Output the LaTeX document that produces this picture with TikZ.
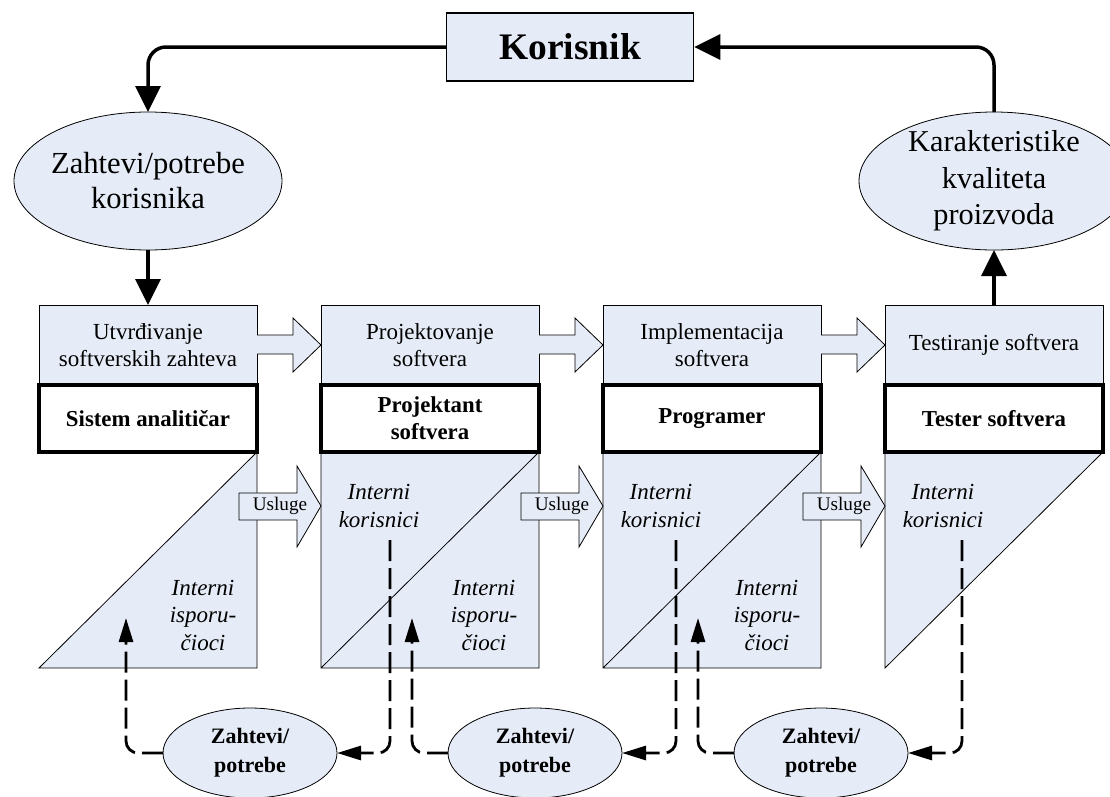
\documentclass[tikz,border=0pt]{standalone}
\usepackage{fontspec}
\setmainfont{Liberation Serif}
\usetikzlibrary{positioning,shapes.geometric,arrows.meta}
\definecolor{plavo}{RGB}{230,236,247}
\tikzset{
	faza/.style={draw, line width=0.8pt, fill=plavo, minimum width=218pt, minimum height=80pt, inner sep=0pt, outer sep=0pt, align=center, font=\fontsize{23}{26.5}\selectfont},
	uloga/.style={draw, line width=4pt, fill=white, minimum width=218pt, minimum height=67pt, inner sep=0pt, outer sep=0pt, align=center, font=\fontsize{22.8}{27}\selectfont\bfseries},
	oblak/.style={ellipse, draw, line width=0.8pt, fill=plavo, inner sep=0pt, outer sep=0pt},
	tekst/.style={align=center, inner sep=0pt},
	tok/.style={line width=3.5pt, rounded corners=18pt, -{Triangle[length=26pt,width=25pt]}},
	povrat/.style={line width=2.8pt, dash pattern=on 21pt off 7pt, rounded corners=12pt, -{Triangle[length=24pt,width=14pt]}},
	blok/.style={draw, line width=0.8pt, fill=plavo},
	interni/.style={tekst, font=\fontsize{23}{27.5}\selectfont\itshape},
}
\begin{document}
\begin{tikzpicture}[x=1pt, y=-1pt]
	\useasboundingbox (0,0) rectangle (1110,796);
	\draw[blok] (257,452) -- (257,668) -- (39,668) -- cycle;
	\draw[blok] (321,452) rectangle (539,668) (539,452) -- (321,668);
	\draw[blok] (603,452) rectangle (821,668) (821,452) -- (603,668);
	\draw[blok] (885,452) -- (1103,452) -- (885,668) -- cycle;
	\node[faza] (h1) at (148,345) {Utvrđivanje\\softverskih zahteva};
	\node[faza] (h2) at (430,345) {Projektovanje\\softvera};
	\node[faza] (h3) at (712,345) {Implementacija\\softvera};
	\node[faza] (h4) at (994,345) {Testiranje softvera};
	\node[uloga, below=0pt of h1] (r1) {Sistem analitičar};
	\node[uloga, below=0pt of h2] (r2) {Projektant\\softvera};
	\node[uloga, below=0pt of h3] (r3) {Programer};
	\node[uloga, below=0pt of h4] (r4) {Tester softvera};
	\foreach \x [count=\i] in {0,282,564} {
		\draw[blok] (257+\x,335) -- (293+\x,335) -- (293+\x,318) -- (321+\x,345) -- (293+\x,372) -- (293+\x,354) -- (257+\x,354);
		\draw[blok] (239+\x,493) -- (297+\x,493) -- (297+\x,466) -- (321+\x,506) -- (297+\x,547) -- (297+\x,520) -- (239+\x,520) -- cycle;
		\node[tekst, font=\fontsize{19.2}{20}\selectfont] (usluge\i) at (280+\x,506) {Usluge};
	}
	\node[interni] (ik2) at (379,506) {Interni\\korisnici};
	\node[interni] (ik3) at (661,506) {Interni\\korisnici};
	\node[interni] (ik4) at (943,506) {Interni\\korisnici};
	\node[interni] (ii1) at (203,615) {Interni\\isporu-\\čioci};
	\node[interni] (ii2) at (484,615) {Interni\\isporu-\\čioci};
	\node[interni] (ii3) at (767,615) {Interni\\isporu-\\čioci};
	\node[draw, line width=1.5pt, fill=plavo, minimum width=247pt, minimum height=68pt, inner sep=0pt, font=\fontsize{37.5}{40}\selectfont\bfseries] (korisnik) at (570,47) {Korisnik};
	\node[oblak, minimum width=268pt, minimum height=138pt] (zahtevi) at (148,181) {};
	\node[tekst, font=\fontsize{30.6}{35}\selectfont] (zahtevi-t) at (zahtevi) {Zahtevi/potrebe\\korisnika};
	\node[oblak, minimum width=270pt, minimum height=138pt] (karakteristike) at (994,181) {};
	\node[tekst, font=\fontsize{30.3}{36.5}\selectfont] (karakteristike-t) at (karakteristike) {Karakteristike\\kvaliteta\\proizvoda};
	\draw[tok] (korisnik.west) -| (zahtevi.north);
	\draw[tok] (zahtevi.south) -- (h1.north);
	\draw[tok] (h4.north) -- (karakteristike.south);
	\draw[tok] (karakteristike.north) |- (korisnik.east);
	\node[oblak, minimum width=174pt, minimum height=90pt, align=center, font=\fontsize{22}{29}\selectfont\bfseries] (z1) at (250,753) {Zahtevi/\\potrebe};
	\node[oblak, minimum width=174pt, minimum height=90pt, align=center, font=\fontsize{22}{29}\selectfont\bfseries] (z2) at (535,753) {Zahtevi/\\potrebe};
	\node[oblak, minimum width=174pt, minimum height=90pt, align=center, font=\fontsize{22}{29}\selectfont\bfseries] (z3) at (821,753) {Zahtevi/\\potrebe};
	\coordinate (d2) at (390,540);
	\coordinate (d3) at (676,540);
	\coordinate (d4) at (962,540);
	\coordinate (p1) at (126,618);
	\coordinate (p2) at (412,618);
	\coordinate (p3) at (698,618);
	\draw[povrat] (d2) |- (z1.east);
	\draw[povrat] (d3) |- (z2.east);
	\draw[povrat] (d4) |- (z3.east);
	\draw[povrat] (z1.west) -| (p1);
	\draw[povrat] (z2.west) -| (p2);
	\draw[povrat] (z3.west) -| (p3);
\end{tikzpicture}
\end{document}
